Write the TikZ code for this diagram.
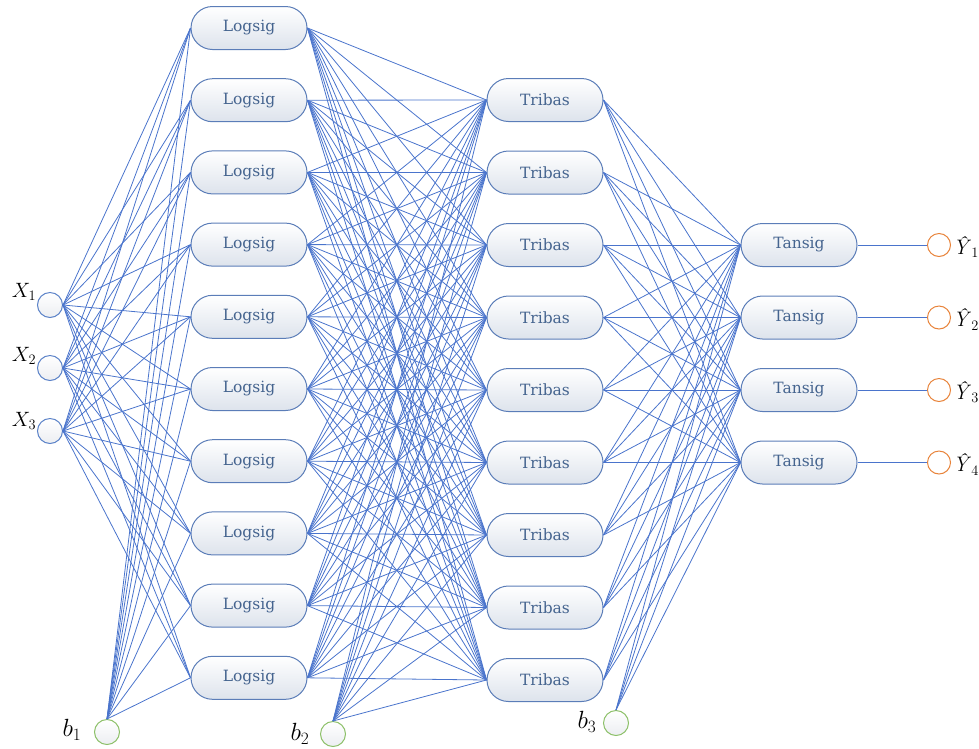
\documentclass[tikz,border=0pt]{standalone}
\usepackage{fontspec}
\newfontfamily\boxfont{DejaVu Serif}
\usetikzlibrary{shapes.misc}
\definecolor{edge}{HTML}{4A74CC}
\definecolor{boxline}{HTML}{5B7DB8}
\definecolor{boxtext}{HTML}{45648F}
\definecolor{boxbot}{HTML}{DDE3EC}
\definecolor{inblue}{HTML}{5B82C8}
\definecolor{biasg}{HTML}{8CC068}
\definecolor{outo}{HTML}{E8833A}
\definecolor{circbot}{HTML}{ECEEF2}
\begin{document}
\begin{tikzpicture}[x=1pt,y=-1pt,
  fn/.style={rounded rectangle, draw=boxline, line width=1pt, top color=white, bottom color=boxbot,
    minimum width=116pt, minimum height=43pt, inner sep=0pt, text=boxtext, font=\boxfont\fontsize{15.5}{18}\selectfont},
  incirc/.style={circle, draw=inblue, line width=1pt, inner sep=0pt, minimum size=25pt, top color=white, bottom color=circbot},
  biascirc/.style={circle, draw=biasg, line width=1pt, inner sep=0pt, minimum size=25pt, top color=white, bottom color=circbot},
  outcirc/.style={circle, draw=outo, line width=1pt, inner sep=0pt, minimum size=23pt, fill=white},
  lab/.style={inner sep=0pt, font=\fontsize{21}{23}\selectfont},
  blab/.style={inner sep=0pt, font=\fontsize{24}{26}\selectfont},
  wire/.style={draw=edge, line width=0.8pt}]
\useasboundingbox (0,0) rectangle (979,748);
% hidden layer 1
\foreach \i in {1,...,10}
  \node[fn] (L\i) at (249, {28+72.2*(\i-1)}) {Logsig};
% hidden layer 2
\foreach \j in {1,...,9}
  \node[fn] (T\j) at (545, {100+72.5*(\j-1)}) {Tribas};
% output layer
\foreach \k in {1,...,4} {
  \node[fn] (S\k) at (799, {245+72.5*(\k-1)}) {Tansig};
  \node[outcirc] (Y\k) at (939, {245+72.5*(\k-1)}) {};
  \node[lab, anchor=west] (YL\k) at (953, {247+72.5*(\k-1)}) {\textit{Ŷ}$_{\k}$};
}
% inputs
\node[incirc] (X1) at (50,305) {};
\node[incirc] (X2) at (50,368) {};
\node[incirc] (X3) at (50,431) {};
\node[lab] (XL1) at (24,292) {$X_1$};
\node[lab] (XL2) at (24,356) {$X_2$};
\node[lab] (XL3) at (24,421) {$X_3$};
% biases
\node[biascirc] (B1) at (107,732) {};
\node[biascirc] (B2) at (333,734) {};
\node[biascirc] (B3) at (616,723) {};
\node[blab] (BL1) at (72,730) {$b_1$};
\node[blab] (BL2) at (300,734) {$b_2$};
\node[blab] (BL3) at (587,722) {$b_3$};
% wires
\foreach \i in {1,...,10} {
  \draw[wire] (X1.east) -- (L\i.west);
  \draw[wire] (X2.east) -- (L\i.west);
  \draw[wire] (X3.east) -- (L\i.west);
  \draw[wire] (B1.north) -- (L\i.west);
  \foreach \j in {1,...,9}
    \draw[wire] (L\i.east) -- (T\j.west);
}
\foreach \j in {1,...,9} {
  \draw[wire] (B2.north) -- (T\j.west);
  \foreach \k in {1,...,4}
    \draw[wire] (T\j.east) -- (S\k.west);
}
\foreach \k in {1,...,4} {
  \draw[wire] (B3.north) -- (S\k.west);
  \draw[wire] (S\k.east) -- (Y\k.west);
}
\end{tikzpicture}
\end{document}
